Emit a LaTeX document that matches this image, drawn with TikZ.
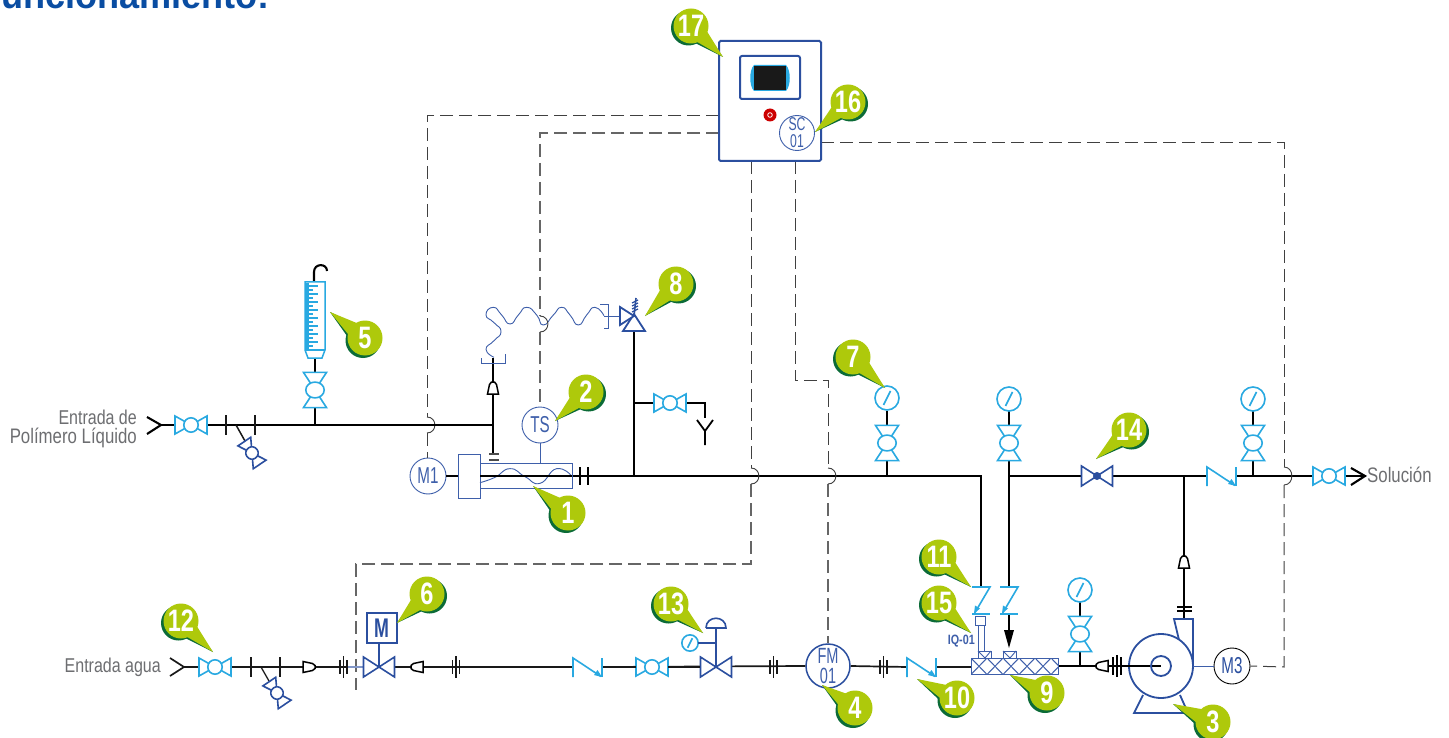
\documentclass[tikz,border=0pt]{standalone}
\usepackage{fontspec}
\setmainfont{Liberation Sans}
\newfontfamily\labelfont[FakeStretch=0.8]{Liberation Sans}
\newfontfamily\instrfont[FakeStretch=0.66]{Liberation Sans}
\newfontfamily\bubblefont[FakeStretch=0.76]{Liberation Sans}
\newfontfamily\titlefont[FakeStretch=0.95]{Liberation Sans}
\usetikzlibrary{arrows.meta,calc}
\definecolor{cyanv}{HTML}{29A9E1}
\definecolor{bluev}{HTML}{2B4F9F}
\definecolor{thinb}{HTML}{3E5FAA}
\definecolor{lime}{HTML}{AEC90B}
\definecolor{dgreen}{HTML}{0B6B37}
\definecolor{textgray}{HTML}{6D6E71}
\definecolor{titleblue}{HTML}{0A4DA2}
\tikzset{
  pipe/.style={black,line width=2.1pt},
  pipelow/.style={black!90,line width=1.7pt},
  signal/.style={black!75,line width=1pt,dash pattern=on 13pt off 6pt},
  signalgray/.style={black!60,line width=1.1pt,dash pattern=on 13pt off 6pt},
  hopline/.style={black!75,line width=.9pt},
  thinblue/.style={thinb,line width=.9pt},
  sym/.style={line width=1.6pt},
  instr/.style={circle,draw=thinb,line width=.9pt,fill=white,inner sep=0pt,text=thinb,font=\instrfont\fontsize{23}{20}\selectfont,align=center},
  plabel/.style={text=textgray,font=\labelfont\fontsize{21}{21}\selectfont,align=right,inner sep=0pt},
  plabelsmall/.style={plabel,font=\labelfont\fontsize{20}{20}\selectfont},
  pics/ballvalve/.style={code={
    \draw[#1,sym,fill=white] (-16,-9)--(-16,9)--(16,-9)--(16,9)--cycle;
    \draw[#1,sym,fill=white] (0,0) circle (7.2);}},
  pics/gatevalve/.style={code={
    \draw[bluev,sym,fill=white] (-15.5,-10)--(-15.5,10)--(15.5,-10)--(15.5,10)--cycle;}},
  pics/checkvalve/.style={code={
    \draw[cyanv,sym] (-15,10)--(-15,-9)--(13,9.5);
    \draw[cyanv,sym] (14,-9)--(14,10);
    \fill[cyanv] (14,10)--(6,8)--(9.5,3)--cycle;}},
  pics/zcheck/.style={code={
    \draw[cyanv,sym] (-9,-13.5)--(9,-13.5)--(-6,12);
    \draw[cyanv,sym] (-9,13.5)--(9,13.5);
    \fill[cyanv] (-7,13)--(-6,5)--(-1,8)--cycle;}},
  pics/gauge/.style={code={
    \draw[cyanv,sym,fill=white] (0,0) circle (12);
    \draw[cyanv,sym] (-3.5,7)--(3.5,-7);}},
  pics/cone/.style={code={
    \draw[black,line width=1.5pt,fill=white] (-6,-5.5)--(3.5,-3.5)--(6,-1.5)--(6,1.5)--(3.5,3.5)--(-6,5.5)--cycle;}},
  pics/flangetwo/.style={code={
    \draw[black,line width=2pt] (-3.8,-9)--(-3.8,9) (3.8,-9)--(3.8,9);}},
  pics/flangethree/.style={code={
    \draw[black!90,line width=1.3pt] (-3.5,-7)--(-3.5,7) (3.5,-7)--(3.5,7);
    \draw[black!90,line width=1.5pt] (0,-11)--(0,11);}},
}
\newcommand{\bubble}[6]{% name, centre, tip, shadow dx, shadow dy, text
  \coordinate (c#1) at (#2);
  \coordinate (t#1) at (#3);
  \coordinate (a#1) at ($(c#1)!11pt!90:(t#1)$);
  \coordinate (b#1) at ($(c#1)!11pt!-90:(t#1)$);
  \fill[dgreen] ($(c#1)+(#4,#5)$) circle (17.5);
  \fill[dgreen] (t#1) -- ($(a#1)+(#4,#5)$) -- ($(b#1)+(#4,#5)$) -- cycle;
  \fill[lime] (c#1) circle (17.5);
  \fill[lime] (t#1) -- (a#1) -- (b#1) -- cycle;
  \node[text=white,inner sep=0pt,font=\bubblefont\bfseries\fontsize{31}{31}\selectfont] (n#1) at (c#1) {#6};
}
\newcommand{\hop}[3]{% crossing of a signal line over a pipe
  \draw[hopline] (#1,#2-#3) .. controls (#1+10.5,#2-#3) and (#1+10.5,#2+#3) .. (#1,#2+#3);
}
\begin{document}
\begin{tikzpicture}[x=1pt,y=-1pt]
\useasboundingbox (0,0) rectangle (1449,738);
\fill[white] (0,0) rectangle (1449,738);

% clipped heading
\begin{scope}
\clip (0,0) rectangle (1449,738);
\node[anchor=base east,inner sep=0pt,text=titleblue,font=\titlefont\bfseries\fontsize{38}{38}\selectfont] (title) at (270,8.5) {funcionamiento:};
\end{scope}

% instrument nodes
\node[instr,minimum size=36pt] (M1) at (428,476) {M1};
\node[instr,minimum size=36pt] (TS) at (540,425) {TS};
\node[instr,minimum size=44pt,line width=1.5pt,draw=bluev,font=\instrfont\fontsize{22}{20}\selectfont] (FM) at (828,666) {FM\\01};
\node[instr,minimum size=36pt,draw=black,text=bluev] (M3) at (1232,666) {M3};

% junction and end coordinates
\coordinate (polyIn) at (161,425);
\coordinate (polyTeeA) at (315,425);
\coordinate (polyTeeB) at (493,425);
\coordinate (shaftL) at (480,476);
\coordinate (mainTee) at (634,476);
\coordinate (mainCorner) at (981,476);
\coordinate (mixFeed) at (1009,476);
\coordinate (disTee) at (1184,476);
\coordinate (out) at (1365,476);
\coordinate (drainTee) at (634,403);
\coordinate (drainCorner) at (705,403);
\coordinate (drainEnd) at (705,418);
\coordinate (relief) at (634,331);
\coordinate (waterIn) at (184,667);
\coordinate (blueL) at (347,667);
\coordinate (vAct) at (379,667);
\coordinate (waterB) at (394,667);
\coordinate (meshL) at (971,667);
\coordinate (meshR) at (1058,666);
\coordinate (impeller) at (1161,666);
\coordinate (panelA) at (719,116);
\coordinate (panelB) at (719,133);
\coordinate (panelC) at (751,161);
\coordinate (panelD) at (795,161);
\coordinate (panelE) at (821,143);

% signal lines
\draw[signal] (panelA) -- (427,116) -- (427,417);
\draw[signal] (427,433) -- (M1.north -| 427,0);
\hop{427}{425}{8}
\draw[signalgray] (panelB) -- (540,133) -- (540,316);
\draw[signalgray] (540,332) -- (TS.north);
\draw[signal] (panelC) -- (751,468);
\draw[signalgray] (751,484) -- (751,564) -- (356,564) -- (356,690);
\draw[signal] (panelD) -- (795,380) -- (828,380) -- (828,468);
\draw[signalgray] (828,484) -- (FM.north);
\draw[signal] (panelE) -- (1284,143) -- (1284,467);
\draw[signal] (1284,485) -- (1284,667) -- (M3.east);

% pipes: polymer
\draw[pipe] (polyIn) -- (polyTeeB);
\draw[pipe] (polyTeeB) -- (493,358);
\draw[pipe] (polyTeeB) -- (493,454);
\draw[pipe] (polyTeeA) -- (315,358);
\draw[pipe] (314,282) -- (314,272) .. controls (314,263) and (327,263) .. (327,271);
\draw[pipe] (147,417) -- (polyIn) -- (147,434);
\draw[black!90,line width=1.5pt] (226,415) -- (226,435) (255,415) -- (255,435);
\draw[black!90,line width=1.5pt] (236,425) -- (245,441);
% main
\draw[pipe] (M1.east) -- (458,476);
\draw[pipe] (shaftL) -- (mainTee) -- (mainCorner) -- (981,587);
\draw[pipe] (mainTee) -- (relief);
\draw[pipe] (drainTee) -- (drainCorner) -- (drainEnd);
\draw[black,line width=1.8pt] (697,420) -- (705,431) -- (713,420) (705,431) -- (705,445);
\draw[pipe] (mixFeed) -- (1207,476);
\draw[pipe] (1236,476) -- (out);
\draw[pipe] (mixFeed) -- (1009,587);
\draw[pipe] (mixFeed) -- (1009,411);
\draw[pipe] (887,476) -- (887,411);
\draw[pipe] (1253,476) -- (1253,411);
\draw[pipe] (disTee) -- (1184,619);
\draw[pipe] (1351,468) -- (out) -- (1351,485);
% jump marks
\hop{751}{476}{8}
\hop{828}{476}{8}
\hop{1284}{476}{9}
% water line
\draw[pipelow] (170,658) -- (waterIn) -- (170,676);
\draw[pipelow] (waterIn) -- (blueL);
\draw[black!90,line width=1.3pt] (251,657) -- (251,677) (280,657) -- (280,677);
\draw[black!90,line width=1.3pt] (261,667) -- (269,681);
\draw[thinb!65,line width=1.5pt] (blueL) -- (vAct);
\draw[pipelow] (waterB) -- (573,667);
\draw[pipelow] (602,667) -- (FM.west);
\draw[pipelow] (FM.east) -- (907,667);
\draw[pipelow] (936,667) -- (meshL);
\draw[pipe] (meshR) -- (impeller);
\draw[pipe] (1080,666) -- (1080,652);
\draw[pipe] (1080,617) -- (1080,602);
\draw[black,line width=1.8pt] (1009,614) -- (1009,632);
\fill[black] (1004,630) -- (1014,630) -- (1009,648) -- cycle;

% thin-blue flexible tube and relief connection
\begin{scope}[shift={(400,250)},scale=1/3]
\draw[thinblue] plot[smooth,tension=1] coordinates {(282,322) (258,298) (282,272) (303,245) (282,218) (258,195) (280,172) (305,195) (330,222) (355,195) (380,172) (410,195) (430,225) (460,195) (485,172) (510,195) (535,225) (560,195) (585,172) (612,197)};
\draw[thinblue] (600,163) -- (625,163) -- (625,235) -- (612,235);
\draw[thinblue] (612,198) -- (658,198);
\draw[thinblue] (245,325) -- (245,340) -- (316,340) -- (316,312);
\draw[black!70,line width=2.4pt] (268,612) -- (298,612) (268,630) -- (298,630);
\end{scope}
\hop{540}{324}{8}

% screw feeder
\draw[thinblue,fill=white] (458,454) rectangle (480,498);
\draw[thinblue] (480,463) rectangle (572,488);
\draw[thinblue] (TS.south) -- (540,463);
\begin{scope}[shift={(400,250)},scale=1/3]
\draw[thinblue] plot[smooth,tension=.9] coordinates {(240,698) (285,682) (330,656) (375,680) (420,700) (470,656) (517,680)};
\end{scope}
\draw[pipe] (shaftL) -- (572,476);
\pic at (584,476) {flangetwo};
\pic[rotate=90] at (493,388) {cone};
\draw[bluev,line width=1.8pt,fill=white] (634,314) -- (645,331) -- (623,331) -- cycle;
\draw[bluev,line width=1.8pt,fill=white] (634,316) -- (620,307) -- (620,325) -- cycle;
\draw[bluev,line width=1.6pt] (634,316) -- (636,298);
\draw[bluev,line width=1.2pt] (632,312) -- (638,309) (632,309) -- (638,306) (632,306) -- (638,303) (632,303) -- (638,300);

% rotameter
\draw[cyanv,line width=1.5pt,fill=white] (305,282) -- (325,282) -- (325,350) -- (322,358) -- (308,358) -- (305,350) -- cycle;
\draw[cyanv,line width=1.2pt] (305,350) -- (325,350);
\fill[cyanv] (305,283) rectangle (309,349);
\foreach \yy in {286,294,...,346} {\draw[cyanv,line width=1.3pt] (305,\yy) -- (318,\yy);}
\foreach \yy in {290,298,...,346} {\draw[cyanv,line width=1.3pt] (305,\yy) -- (313,\yy);}

% hand valves
\pic at (191,425) {ballvalve=cyanv};
\pic[rotate=-56,scale=.86] at (252,453) {ballvalve=bluev};
\pic[rotate=90,xscale=1.1,yscale=1.28] at (315,390) {ballvalve=cyanv};
\pic at (670,403) {ballvalve=cyanv};
\pic[rotate=90,xscale=1.1,yscale=1.28] at (887,443) {ballvalve=cyanv};
\pic[rotate=90,xscale=1.1,yscale=1.28] at (1009,443) {ballvalve=cyanv};
\pic[rotate=90,xscale=1.1,yscale=1.28] at (1253,443) {ballvalve=cyanv};
\pic[rotate=90,xscale=1.1,yscale=1.28] at (1080,634) {ballvalve=cyanv};
\pic at (1329,476) {ballvalve=cyanv};
\pic at (215,667) {ballvalve=cyanv};
\pic[rotate=-56,scale=.86] at (277,693) {ballvalve=bluev};
\pic at (652,667) {ballvalve=cyanv};
% gauges
\pic at (887,398) {gauge};
\pic at (1009,399) {gauge};
\pic at (1253,399) {gauge};
\pic at (1080,590) {gauge};
\pic[scale=.68] at (690,643) {gauge};
% gate valves
\pic at (vAct) {gatevalve};
\pic at (716,667) {gatevalve};
\pic at (1097,476) {gatevalve};
\fill[bluev] (1097,476) circle (4);
% actuators
\node[draw=bluev,line width=2pt,fill=white,minimum size=30pt,inner sep=0pt,text=bluev,font=\instrfont\bfseries\fontsize{27}{27}\selectfont] (Mact) at (381.5,628) {M};
\draw[bluev,line width=1.8pt] (379,643) -- (vAct);
\draw[bluev,line width=1.6pt] (716,667) -- (716,628);
\draw[bluev,line width=1.6pt] (706,628) -- (726,628) .. controls (726,615) and (706,615) .. (706,628);
\draw[bluev,line width=1.6pt] (698,643) -- (716,643);
% check valves
\pic at (588,667) {checkvalve};
\draw[pipelow] (603,667) -- (636,667);
\draw[pipelow] (668,667) -- (700,667);
\pic at (922,667) {checkvalve};
\pic at (1222,476) {checkvalve};
\pic at (981,600.5) {zcheck};
\pic at (1009,600.5) {zcheck};
% cones and flanges
\pic at (309,667) {cone};
\pic[rotate=180] at (417,667) {cone};
\pic at (343.5,667) {flangethree};
\pic at (456,667) {flangethree};
\pic at (773.5,667) {flangethree};
\pic at (883.5,667) {flangethree};
\pic[rotate=180] at (1102,666) {cone};
\draw[black,line width=2pt] (1113,657) -- (1113,675) (1117,655) -- (1117,677) (1121,657) -- (1121,675);
\pic[rotate=90] at (1184,562) {cone};
\draw[black,line width=2pt] (1177,607) -- (1192,607) (1177,611) -- (1192,611);

% mixer
\draw[thinb,line width=1pt,fill=white] (978,658) -- (978,651) -- (991,651) -- (991,658);
\draw[thinb,line width=1pt,fill=white] (1003,658) -- (1003,651) -- (1016,651) -- (1016,658);
\draw[thinb,line width=.9pt] (978,651) -- (985,658) -- (991,651) (1003,651) -- (1010,658) -- (1016,651);
\begin{scope}
\clip (971,658) rectangle (1058,674.5);
\foreach \xx in {955,971,...,1059} {
  \draw[thinb,line width=1pt] (\xx,658) -- (\xx+16,674.5);
  \draw[thinb,line width=1pt] (\xx+16,658) -- (\xx,674.5);
}
\end{scope}
\draw[thinb,line width=1pt] (971,658) rectangle (1058,674.5);
% quality sensor
\draw[thinb,line width=1pt,fill=white] (975,616) rectangle (985,625);
\draw[thinb,line width=1pt] (978,625) -- (978,651) (984,625) -- (984,651);
\node[anchor=east,inner sep=0pt,text=thinb,font=\labelfont\bfseries\fontsize{13.5}{13}\selectfont] (IQ) at (975,641) {IQ-01};

% pump
\draw[bluev,line width=1.8pt,fill=white] (1143,695) -- (1134,713) -- (1188,713) -- (1180,695);
\draw[bluev,line width=1.8pt,fill=white] (1179,640) -- (1174,619) -- (1193,619) -- (1193,666);
\draw[bluev,line width=1.8pt,fill=white] (impeller) circle (32);
\draw[pipe] (1121,666) -- (impeller);
\draw[bluev,line width=1.8pt] (impeller) circle (10);
\draw[thinblue] (1193,666) -- (M3.west);

% control panel
\draw[bluev,line width=2pt,fill=white,rounded corners=1.5pt] (719,41) rectangle (821,161);
\draw[bluev,line width=2pt,rounded corners=2pt] (740,56) rectangle (800,99);
\fill[cyanv] (754,65) .. controls (749,70) and (749,86) .. (754,91) -- (786,91) .. controls (791,86) and (791,70) .. (786,65) -- cycle;
\fill[black!90] (754,66) rectangle (786,90);
\fill[red!80!black] (770,115) circle (6.5);
\draw[white,line width=.8pt] (770,115) circle (2.3);
\node[instr,minimum size=35pt,font=\instrfont\fontsize{18.5}{17}\selectfont] (SC) at (797,133) {SC\\01};

% labels
\node[plabelsmall,anchor=east] (lblA) at (137,417) {Entrada de};
\node[plabel,anchor=east] (lblB) at (137,438) {Polímero Líquido};
\node[plabelsmall,anchor=east] (lblC) at (161,667) {Entrada agua};
\node[plabel,anchor=west] (lblD) at (1367,475) {Solución};

% numbered call-outs
\bubble{1}{568,513}{533,486}{-2}{2.5}{1}
\bubble{2}{586,392}{555,421}{2.5}{2}{2}
\bubble{3}{1213,722}{1173,704}{-2}{2.5}{3}
\bubble{4}{855,708}{822,685}{-2}{2.5}{4}
\bubble{5}{365,338}{330,312}{-2}{2.5}{5}
\bubble{6}{427,594}{397,623}{2.5}{2}{6}
\bubble{7}{853,357}{885,388}{-2.5}{2}{7}
\bubble{8}{676,284}{645,316}{2.5}{2}{8}
\bubble{9}{1047,693}{1010,675}{-2}{2.5}{9}
\bubble{10}{957,698}{917,679}{-2}{2.5}{10}
\bubble{11}{939,557}{971,587}{-2.5}{2}{11}
\bubble{12}{181,621}{213,652}{-2.5}{2}{12}
\bubble{13}{671,604}{703,633}{-2.5}{2}{13}
\bubble{14}{1129,430}{1096,459}{2.5}{2}{14}
\bubble{15}{939,603}{971,633}{-2.5}{2}{15}
\bubble{16}{848,102}{815,132}{2.5}{2}{16}
\bubble{17}{691,26}{723,57}{-2.5}{2}{17}
\end{tikzpicture}
\end{document}
